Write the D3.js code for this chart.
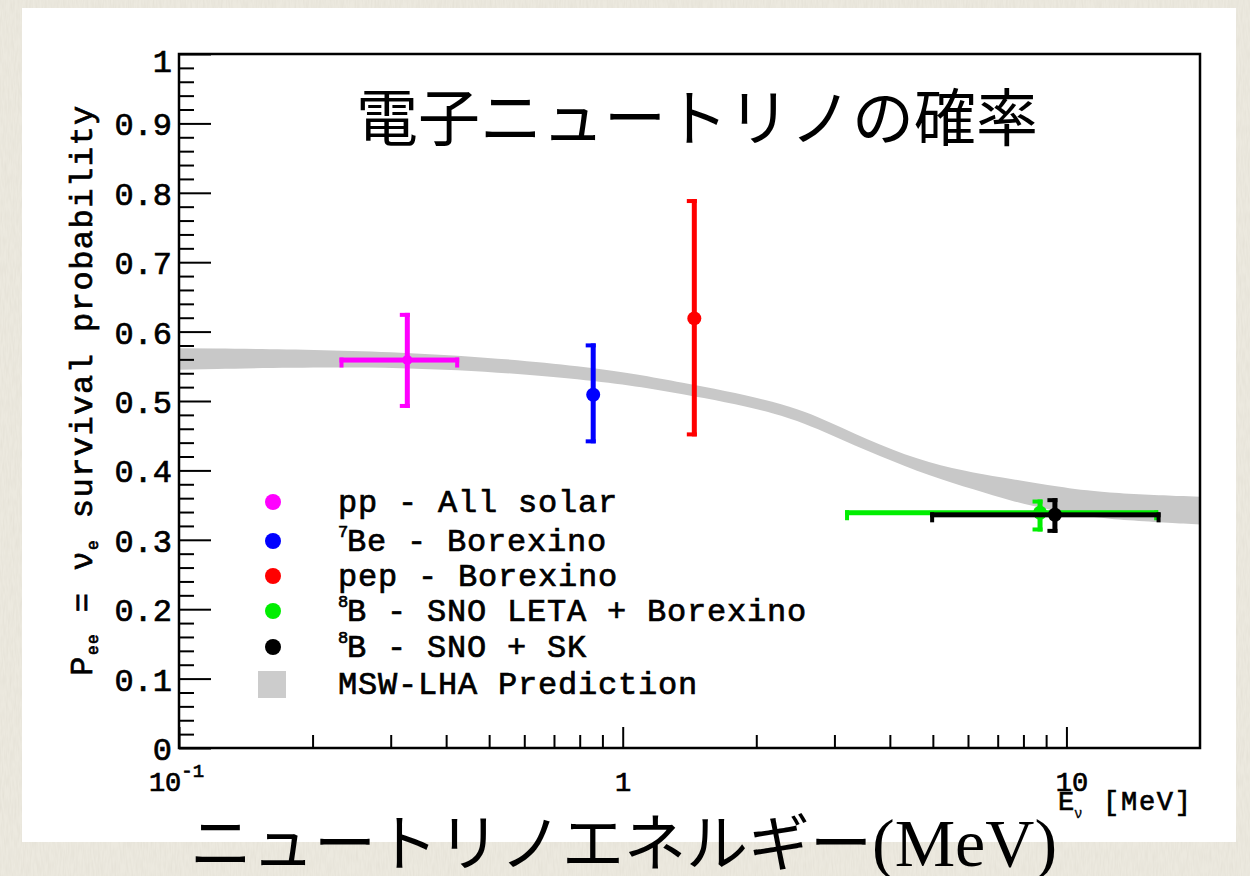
<!DOCTYPE html>
<html>
<head>
<meta charset="utf-8">
<script src="https://cdn.jsdelivr.net/npm/d3@7/dist/d3.min.js"></script>
<style>
  html, body { margin: 0; padding: 0; background: #ebe8de; }
  svg { display: block; }
</style>
</head>
<body>
<svg id="chart" width="1250" height="876"></svg>
<script>
// ---- data -------------------------------------------------------------
// MSW-LHA prediction band: energy (MeV) with lower / upper survival probability
const bandEnergy = [0.1, 0.328, 0.86, 1.35, 2.27, 2.93, 3.80, 4.92, 6.22, 7.47, 9.66, 11.9, 20];
const bandLow    = [0.545, 0.552, 0.531, 0.511, 0.483, 0.452, 0.420, 0.392, 0.372, 0.356, 0.340, 0.330, 0.322];
const bandHigh   = [0.576, 0.573, 0.550, 0.527, 0.499, 0.470, 0.436, 0.410, 0.396, 0.388, 0.376, 0.368, 0.362];

// measurements: pp, 7Be, pep, 8B (SNO LETA + Borexino), 8B (SNO + SK)
const pointEnergy = [0.327, 0.858, 1.45, 8.72, 9.42];
const pointProb   = [0.559, 0.509, 0.619, 0.339, 0.336];
const probLow     = [0.490, 0.439, 0.449, 0.312, 0.310];
const probHigh    = [0.627, 0.583, 0.791, 0.358, 0.360];
const energyLow   = [0.230, null, null, 3.17, 4.93];
const energyHigh  = [0.428, null, null, 16.1, 16.3];
const pointColor  = ["#ff00ff", "#0000ff", "#ff0000", "#00ee00", "#000000"];
const drawOrder   = [3, 4, 0, 1, 2];

// legend entries (superscript prefix + text)
const legendSup   = ["", "7", "", "8", "8", ""];
const legendText  = ["pp - All solar", "Be - Borexino", "pep - Borexino",
                     "B - SNO LETA + Borexino", "B - SNO + SK", "MSW-LHA Prediction"];
const legendColor = ["#ff00ff", "#0000ff", "#ff0000", "#00ee00", "#000000", "#cccccc"];

// axis ticks
const yMajorTicks = [0, 0.1, 0.2, 0.3, 0.4, 0.5, 0.6, 0.7, 0.8, 0.9, 1];
const yMinorTicks = d3.range(0, 51).map(i => i / 50).filter(v => Math.round(v * 50) % 5 !== 0);
const xMajorTicks = [0.1, 1, 10];
const xMajorLabels = [["10", "-1"], ["1", ""], ["10", ""]];
const xMinorTicks = [0.2, 0.3, 0.4, 0.5, 0.6, 0.7, 0.8, 0.9, 2, 3, 4, 5, 6, 7, 8, 9];

// texts
const titleText = "電子ニュートリノの確率";
const xTitleJa  = "ニュートリノエネルギー";
const xTitleUnit = "(MeV)";

// ---- layout -----------------------------------------------------------
const svg = d3.select("#chart");
const W = 1250, H = 876;
const frame = { left: 179, right: 1200, top: 54, bottom: 748 };
const mono = "'Liberation Mono', 'DejaVu Sans Mono', monospace";
const cjk = "'Noto Sans CJK JP', 'Noto Sans CJK SC', sans-serif";

const x = d3.scaleLog().domain([0.1, 20]).range([frame.left, frame.right]);
const y = d3.scaleLinear().domain([0, 1]).range([frame.bottom, frame.top]);

// monospace label styling shared by ticks, legend and axis titles
function monoText(sel, size) {
  return sel.attr("font-family", mono).attr("font-size", size)
    .attr("fill", "#000").attr("stroke", "#000").attr("stroke-width", 0.7);
}

// ---- background -------------------------------------------------------
const defs = svg.append("defs");
const linen = defs.append("filter").attr("id", "linen")
  .attr("x", 0).attr("y", 0).attr("width", "100%").attr("height", "100%");
linen.append("feTurbulence").attr("type", "fractalNoise")
  .attr("baseFrequency", "0.6 0.08").attr("numOctaves", 2).attr("seed", 7);
linen.append("feColorMatrix").attr("type", "matrix")
  .attr("values", "0 0 0 0 0.55  0 0 0 0 0.52  0 0 0 0 0.44  0.3 0 0 0 -0.1");

svg.append("rect").attr("width", W).attr("height", H).attr("fill", "#ece9df");
svg.append("rect").attr("width", W).attr("height", H).attr("filter", "url(#linen)");

// white plot panel
svg.append("rect").attr("x", 22).attr("y", 8).attr("width", 1214).attr("height", 834)
  .attr("fill", "#ffffff");

// ---- prediction band --------------------------------------------------
const bandData = bandEnergy.map((e, i) => ({ e, lo: bandLow[i], hi: bandHigh[i] }));
svg.append("path").datum(bandData)
  .attr("fill", "#c8c8c8")
  .attr("d", d3.area()
    .x(d => x(d.e)).y0(d => y(d.lo)).y1(d => y(d.hi))
    .curve(d3.curveBasis));

// ---- error bars and markers ------------------------------------------
const bars = svg.append("g");
const bw = 5, cap = 5;
drawOrder.forEach(i => {
  const g = bars.append("g").attr("fill", pointColor[i]);
  const cx = x(pointEnergy[i]), cy = y(pointProb[i]);
  const yt = y(probHigh[i]), yb = y(probLow[i]);
  // vertical bar with bracket ends
  g.append("rect").attr("x", cx - bw / 2).attr("y", yt).attr("width", bw).attr("height", yb - yt);
  g.append("rect").attr("x", cx - bw / 2 - cap).attr("y", yt).attr("width", cap + bw).attr("height", 4);
  g.append("rect").attr("x", cx - bw / 2 - cap).attr("y", yb - 4).attr("width", cap + bw).attr("height", 4);
  if (energyLow[i] !== null) {
    const xl = x(energyLow[i]), xr = x(energyHigh[i]);
    g.append("rect").attr("x", xl).attr("y", cy - bw / 2).attr("width", xr - xl).attr("height", bw);
    g.append("rect").attr("x", xl).attr("y", cy - bw / 2).attr("width", 4).attr("height", bw + cap);
    g.append("rect").attr("x", xr - 4).attr("y", cy - bw / 2).attr("width", 4).attr("height", bw + cap);
  }
  g.append("circle").attr("cx", cx).attr("cy", cy).attr("r", i === 0 ? 5 : 7);
});

// ---- axes -------------------------------------------------------------
function styleAxis(g) {
  g.select(".domain").remove();
  g.selectAll(".tick line").attr("stroke", "#000").attr("stroke-width", 2);
}

const yAxisMinor = svg.append("g").attr("transform", `translate(${frame.left},0)`)
  .call(d3.axisLeft(y).tickValues(yMinorTicks).tickSize(-15).tickFormat(""));
styleAxis(yAxisMinor);

const yAxis = svg.append("g").attr("transform", `translate(${frame.left},0)`)
  .call(d3.axisLeft(y).tickValues(yMajorTicks).tickSize(-32).tickPadding(7)
    .tickFormat(d3.format("~g")));
styleAxis(yAxis);
monoText(yAxis.selectAll(".tick text"), 32).attr("dy", "0.36em");
yAxis.selectAll(".tick text").filter(d => d === 1).attr("dy", "0.55em");

const xAxisMinor = svg.append("g").attr("transform", `translate(0,${frame.bottom})`)
  .call(d3.axisBottom(x).tickValues(xMinorTicks).tickSize(-13).tickFormat(""));
styleAxis(xAxisMinor);

const xAxis = svg.append("g").attr("transform", `translate(0,${frame.bottom})`)
  .call(d3.axisBottom(x).tickValues(xMajorTicks).tickSize(-21).tickFormat(""));
styleAxis(xAxis);
xAxis.selectAll(".tick text").remove();
xAxis.selectAll(".tick").each(function (d, i) {
  const [base, sup] = xMajorLabels[i];
  const t = monoText(d3.select(this).append("text"), 27)
    .attr("y", 43)
    .attr("text-anchor", "middle")
    .attr("x", sup ? -3 : (base.length > 1 ? 5 : 0));
  t.append("tspan").text(base);
  if (sup) {
    t.append("tspan").attr("font-size", 19).attr("dy", -14).text(sup);
  }
});

// frame
svg.append("rect")
  .attr("x", frame.left).attr("y", frame.top)
  .attr("width", frame.right - frame.left).attr("height", frame.bottom - frame.top)
  .attr("fill", "none").attr("stroke", "#000").attr("stroke-width", 2.5);

// x axis title (E_nu [MeV])
const xt = svg.append("g");
monoText(xt.append("text"), 27).attr("x", 1058).attr("y", 810).text("E");
monoText(xt.append("text"), 14).attr("x", 1074).attr("y", 818).attr("stroke-width", 0.3).text("ν");
monoText(xt.append("text"), 27).attr("x", 1103).attr("y", 810)
  .attr("textLength", 88).attr("lengthAdjust", "spacing").text("[MeV]");

// y axis title
const yt = monoText(svg.append("text"), 32)
  .attr("transform", "translate(92,390) rotate(-90)")
  .attr("text-anchor", "middle")
  .attr("letter-spacing", 1.5);
yt.append("tspan").text("P");
yt.append("tspan").attr("font-size", 16).attr("dy", 6).text("ee");
yt.append("tspan").attr("dy", -6).text(" = ν");
yt.append("tspan").attr("font-size", 16).attr("dy", 6).text("e");
yt.append("tspan").attr("dy", -6).text(" survival probability");

// ---- legend -----------------------------------------------------------
const legendY = [502, 541, 576, 611, 647, 684];
const legend = svg.append("g");
legendText.forEach((txt, i) => {
  const ly = legendY[i];
  if (i === legendText.length - 1) {
    legend.append("rect").attr("x", 258).attr("y", ly - 13).attr("width", 28).attr("height", 27)
      .attr("fill", legendColor[i]);
  } else {
    legend.append("circle").attr("cx", 273).attr("cy", ly).attr("r", 8).attr("fill", legendColor[i]);
  }
  const t = monoText(legend.append("text"), 32).attr("x", 338).attr("y", ly + 10)
    .attr("letter-spacing", 0.8);
  if (legendSup[i]) {
    t.append("tspan").attr("font-size", 17).attr("dy", -14).text(legendSup[i]);
    t.append("tspan").attr("dy", 14).attr("dx", -2).text(txt);
  } else {
    t.append("tspan").text(txt);
  }
});

// ---- Japanese titles --------------------------------------------------
svg.append("text")
  .attr("x", 697).attr("y", 141)
  .attr("text-anchor", "middle")
  .attr("font-family", cjk).attr("font-size", 62).attr("fill", "#000")
  .text(titleText);

const bottom = svg.append("text")
  .attr("x", 190).attr("y", 866)
  .attr("font-size", 62).attr("fill", "#000");
bottom.append("tspan").attr("font-family", cjk).text(xTitleJa);
bottom.append("tspan").attr("font-family", "'Liberation Serif', 'DejaVu Serif', serif")
  .attr("font-size", 68).text(xTitleUnit);
</script>
</body>
</html>
